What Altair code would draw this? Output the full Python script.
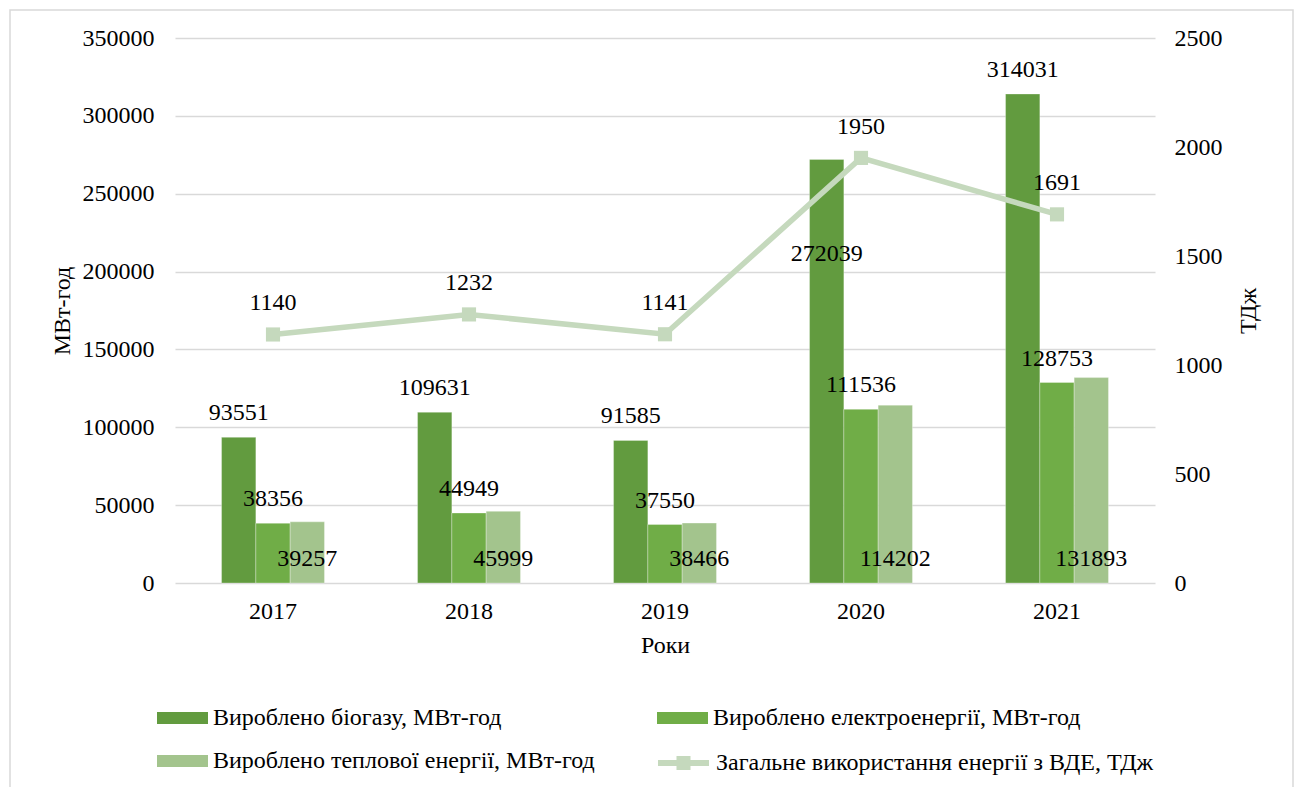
import altair as alt
import pandas as pd

# ---------------- data ----------------
years = ["2017", "2018", "2019", "2020", "2021"]
biogas = [93551, 109631, 91585, 272039, 314031]
electricity = [38356, 44949, 37550, 111536, 128753]
heat = [39257, 45999, 38466, 114202, 131893]
total_tj = [1140, 1232, 1141, 1950, 1691]

bar_series = [
    "Вироблено біогазу, МВт-год",
    "Вироблено електроенергії, МВт-год",
    "Вироблено теплової енергії, МВт-год",
]
line_series = "Загальне використання енергії з ВДЕ, ТДж"

left_ticks = [0, 50000, 100000, 150000, 200000, 250000, 300000, 350000]
right_ticks = [0, 500, 1000, 1500, 2000, 2500]

# ---------------- styles ----------------
bar_colors = ["#629B3F", "#70AD47", "#A3C48D"]
line_color = "#C5D9BD"
FONT = "Liberation Serif"
FS = 24
GRID = "#D9D9D9"

rows = []
for i, yr in enumerate(years):
    for s, vals in zip(bar_series, [biogas, electricity, heat]):
        rows.append({"year": yr, "series": s, "value": vals[i]})
bars_df = pd.DataFrame(rows)
line_df = pd.DataFrame({"year": years, "series": [line_series] * len(years), "value": total_tj})

x_enc = alt.X(
    "year:N",
    sort=years,
    scale=alt.Scale(paddingInner=0.475, paddingOuter=0.2375),
    axis=alt.Axis(title="Роки", labelAngle=0, labelPadding=16, titlePadding=10,
                  domain=False, ticks=False, grid=False),
)
xoff = alt.XOffset("series:N", sort=bar_series,
                   scale=alt.Scale(domain=bar_series, paddingInner=0, paddingOuter=0))
left_axis = alt.Axis(title="МВт-год", values=left_ticks, format="d", domain=False, ticks=False,
                     grid=True, gridColor=GRID, gridWidth=1.3, labelPadding=21, titlePadding=8)
y_left = lambda f: alt.Y(f, scale=alt.Scale(domain=[0, 350000]), axis=left_axis)

bars = alt.Chart(bars_df).mark_bar(stroke="white", strokeWidth=0.6, strokeOpacity=0.5).encode(
    x=x_enc,
    xOffset=xoff,
    y=y_left("value:Q"),
    color=alt.Color(
        "series:N",
        sort=bar_series,
        scale=alt.Scale(domain=bar_series, range=bar_colors),
        legend=alt.Legend(
            title=None, orient="none", legendX=-18, legendY=665, columns=2,
            direction="horizontal",
            columnPadding=62, rowPadding=16,
            symbolType="M-1,-0.4H2.4V0.4H-1Z", symbolSize=900, symbolStrokeWidth=0,
            labelFont=FONT, labelFontSize=FS, labelColor="black", labelOffset=26, labelLimit=700,
        ),
    ),
)

txt = dict(font=FONT, fontSize=FS, color="black", baseline="middle", align="center")
bio_lbl = alt.Chart(bars_df).transform_filter(
    (alt.datum.series == bar_series[0]) & (alt.datum.year != "2020")
).mark_text(dy=-24, **txt).encode(x=x_enc, xOffset=xoff, y=y_left("value:Q"), text="value:Q")
bio_lbl_in = alt.Chart(bars_df).transform_filter(
    (alt.datum.series == bar_series[0]) & (alt.datum.year == "2020")
).mark_text(dy=95, **txt).encode(x=x_enc, xOffset=xoff, y=y_left("value:Q"), text="value:Q")
el_lbl = alt.Chart(bars_df).transform_filter(
    alt.datum.series == bar_series[1]
).mark_text(dy=-24, **txt).encode(x=x_enc, xOffset=xoff, y=y_left("value:Q"), text="value:Q")
heat_lbl = alt.Chart(bars_df).transform_filter(
    alt.datum.series == bar_series[2]
).transform_calculate(base="0").mark_text(dy=-24, **txt).encode(
    x=x_enc, xOffset=xoff, y=y_left("base:Q"), text="value:Q")

border = alt.Chart(pd.DataFrame({"a": [0]})).mark_rect(
    fillOpacity=0, stroke=GRID, strokeWidth=1.5
).encode(x=alt.value(-165), x2=alt.value(1118), y=alt.value(-28), y2=alt.value(770))

left = alt.layer(border, bars, bio_lbl, bio_lbl_in, el_lbl, heat_lbl)

right_axis = alt.Axis(title="ТДж", orient="right", values=right_ticks, format="d", domain=False,
                      ticks=False, grid=False, labelPadding=19, titlePadding=14,
                      titleAngle=-90, titleBaseline="top")
y_right = alt.Y("value:Q", scale=alt.Scale(domain=[0, 2500]), axis=right_axis)

line = alt.Chart(line_df).mark_line(strokeWidth=5.5).encode(
    x=x_enc,
    y=y_right,
    stroke=alt.Stroke(
        "series:N",
        scale=alt.Scale(domain=[line_series], range=[line_color]),
        legend=alt.Legend(
            title=None, orient="none", legendX=480, legendY=707,
            symbolType="M-1,0H2.4M0.433,-0.267H0.967V0.267H0.433Z", symbolSize=900,
            symbolStrokeWidth=6,
            labelFont=FONT, labelFontSize=FS, labelColor="black", labelOffset=25, labelLimit=700,
        ),
    ),
)
pts = alt.Chart(line_df).mark_point(shape="square", filled=True, size=200, color=line_color, opacity=1).encode(
    x=x_enc, y=y_right)
line_lbl = alt.Chart(line_df).mark_text(dy=-31, **txt).encode(x=x_enc, y=y_right, text="value:Q")

right = alt.layer(line, pts, line_lbl)

chart = alt.layer(left, right).resolve_scale(y="independent").properties(
    width=980,
    height=545,
    padding={"left": 175, "top": 38, "right": 141, "bottom": 204},
    autosize=alt.AutoSizeParams(type="none"),
    background="white",
).configure_view(stroke=None).configure_axis(
    labelFont=FONT, labelFontSize=FS, labelColor="black",
    titleFont=FONT, titleFontSize=FS, titleColor="black", titleFontWeight="normal",
)

chart.save("out.html", embed_options={"renderer": "svg", "actions": False})
